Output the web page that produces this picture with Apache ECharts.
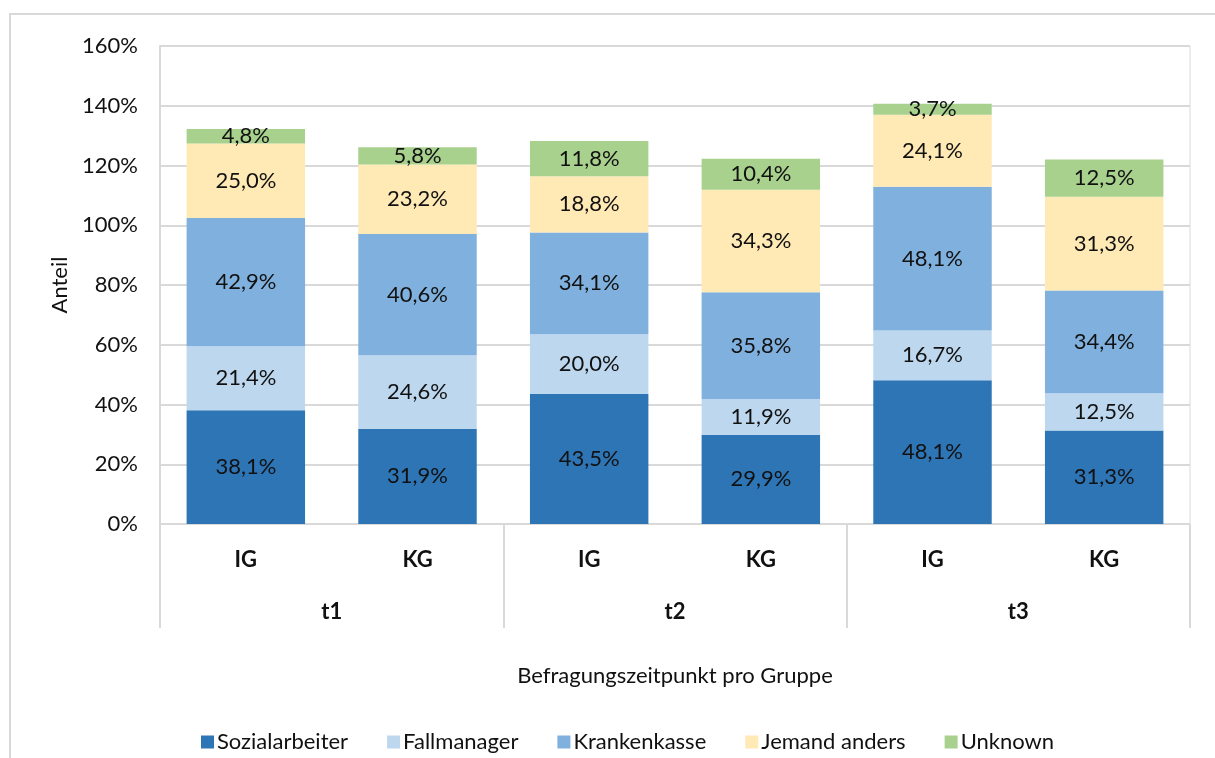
<!DOCTYPE html>
<html>
<head>
<meta charset="utf-8">
<script src="https://cdn.jsdelivr.net/npm/echarts@6/dist/echarts.min.js"></script>
<style>
  html, body { margin: 0; padding: 0; background: #fff; }
  #chart { width: 1215px; height: 758px; }
</style>
</head>
<body>
<div id="chart"></div>
<script>
// Daten
var groups = ['IG', 'KG', 'IG', 'KG', 'IG', 'KG'];
var times = ['t1', 't2', 't3'];
var yTicks = [0, 20, 40, 60, 80, 100, 120, 140, 160];

var sozialarbeiter = [38.1, 31.9, 43.5, 29.9, 48.1, 31.3];
var fallmanager = [21.4, 24.6, 20.0, 11.9, 16.7, 12.5];
var krankenkasse = [42.9, 40.6, 34.1, 35.8, 48.1, 34.4];
var jemandAnders = [25.0, 23.2, 18.8, 34.3, 24.1, 31.3];
var unknown = [4.8, 5.8, 11.8, 10.4, 3.7, 12.5];

var fontFamily = 'Lato, "Open Sans", sans-serif';
var fontSize = 22;
var gridColor = '#d9d9d9';

function fmt(v) {
    return v.toFixed(1).replace('.', ',') + '%';
}

function makeSeries(name, data, color) {
    return {
        name: name,
        type: 'bar',
        stack: 'total',
        barWidth: '69%',
        data: data,
        itemStyle: { color: color },
        label: {
            show: true,
            position: 'inside',
            color: '#111',
            fontFamily: fontFamily,
            fontSize: fontSize,
            formatter: function(p) { return fmt(p.value); }
        }
    };
}

var chart = echarts.init(document.getElementById('chart'));

chart.setOption({
    animation: false,
    textStyle: { fontFamily: fontFamily },
    graphic: [{
        type: 'rect',
        shape: { x: 10, y: 14, width: 1230, height: 780 },
        style: { fill: 'none', stroke: gridColor, lineWidth: 2 },
        silent: true
    }],
    grid: {
        left: 160,
        right: 25,
        top: 46,
        bottom: 234,
        show: true,
        borderColor: gridColor,
        borderWidth: 1
    },
    legend: {
        left: 196,
        top: 726,
        itemWidth: 13,
        itemHeight: 13,
        itemGap: 39,
        icon: 'rect',
        textStyle: { fontSize: fontSize, color: '#111', fontFamily: fontFamily, padding: [0, 0, 0, -2] },
        data: ['Sozialarbeiter', 'Fallmanager', 'Krankenkasse', 'Jemand anders', 'Unknown']
    },
    xAxis: [{
        type: 'category',
        data: groups,
        position: 'bottom',
        axisLine: { show: true, lineStyle: { color: gridColor, width: 1 } },
        axisTick: { show: false },
        axisLabel: {
            margin: 25,
            fontSize: fontSize,
            fontWeight: 'bold',
            color: '#111',
            fontFamily: fontFamily
        },
        name: 'Befragungszeitpunkt pro Gruppe',
        nameLocation: 'middle',
        nameGap: 141,
        nameTextStyle: { fontSize: fontSize, color: '#111', fontFamily: fontFamily }
    }, {
        type: 'category',
        data: times,
        position: 'bottom',
        axisLine: { show: false },
        axisTick: {
            show: true,
            length: 104,
            lineStyle: { color: gridColor, width: 2 }
        },
        axisLabel: {
            margin: 77,
            fontSize: fontSize,
            fontWeight: 'bold',
            color: '#111',
            fontFamily: fontFamily
        }
    }],
    yAxis: {
        type: 'value',
        min: yTicks[0],
        max: yTicks[yTicks.length - 1],
        interval: yTicks[1] - yTicks[0],
        axisLine: { show: true, lineStyle: { color: gridColor, width: 2 } },
        axisTick: { show: false },
        splitLine: { lineStyle: { color: gridColor, width: 2 } },
        axisLabel: {
            margin: 22,
            fontSize: fontSize,
            color: '#111',
            fontFamily: fontFamily,
            formatter: '{value}%'
        },
        name: 'Anteil',
        nameLocation: 'middle',
        nameGap: 87,
        nameRotate: 90,
        nameTextStyle: { fontSize: fontSize, color: '#111', fontFamily: fontFamily }
    },
    series: [
        makeSeries('Sozialarbeiter', sozialarbeiter, '#2e75b6'),
        makeSeries('Fallmanager', fallmanager, '#bdd7ee'),
        makeSeries('Krankenkasse', krankenkasse, '#80b1de'),
        makeSeries('Jemand anders', jemandAnders, '#ffe9b5'),
        makeSeries('Unknown', unknown, '#a9d18e')
    ]
});
</script>
</body>
</html>
